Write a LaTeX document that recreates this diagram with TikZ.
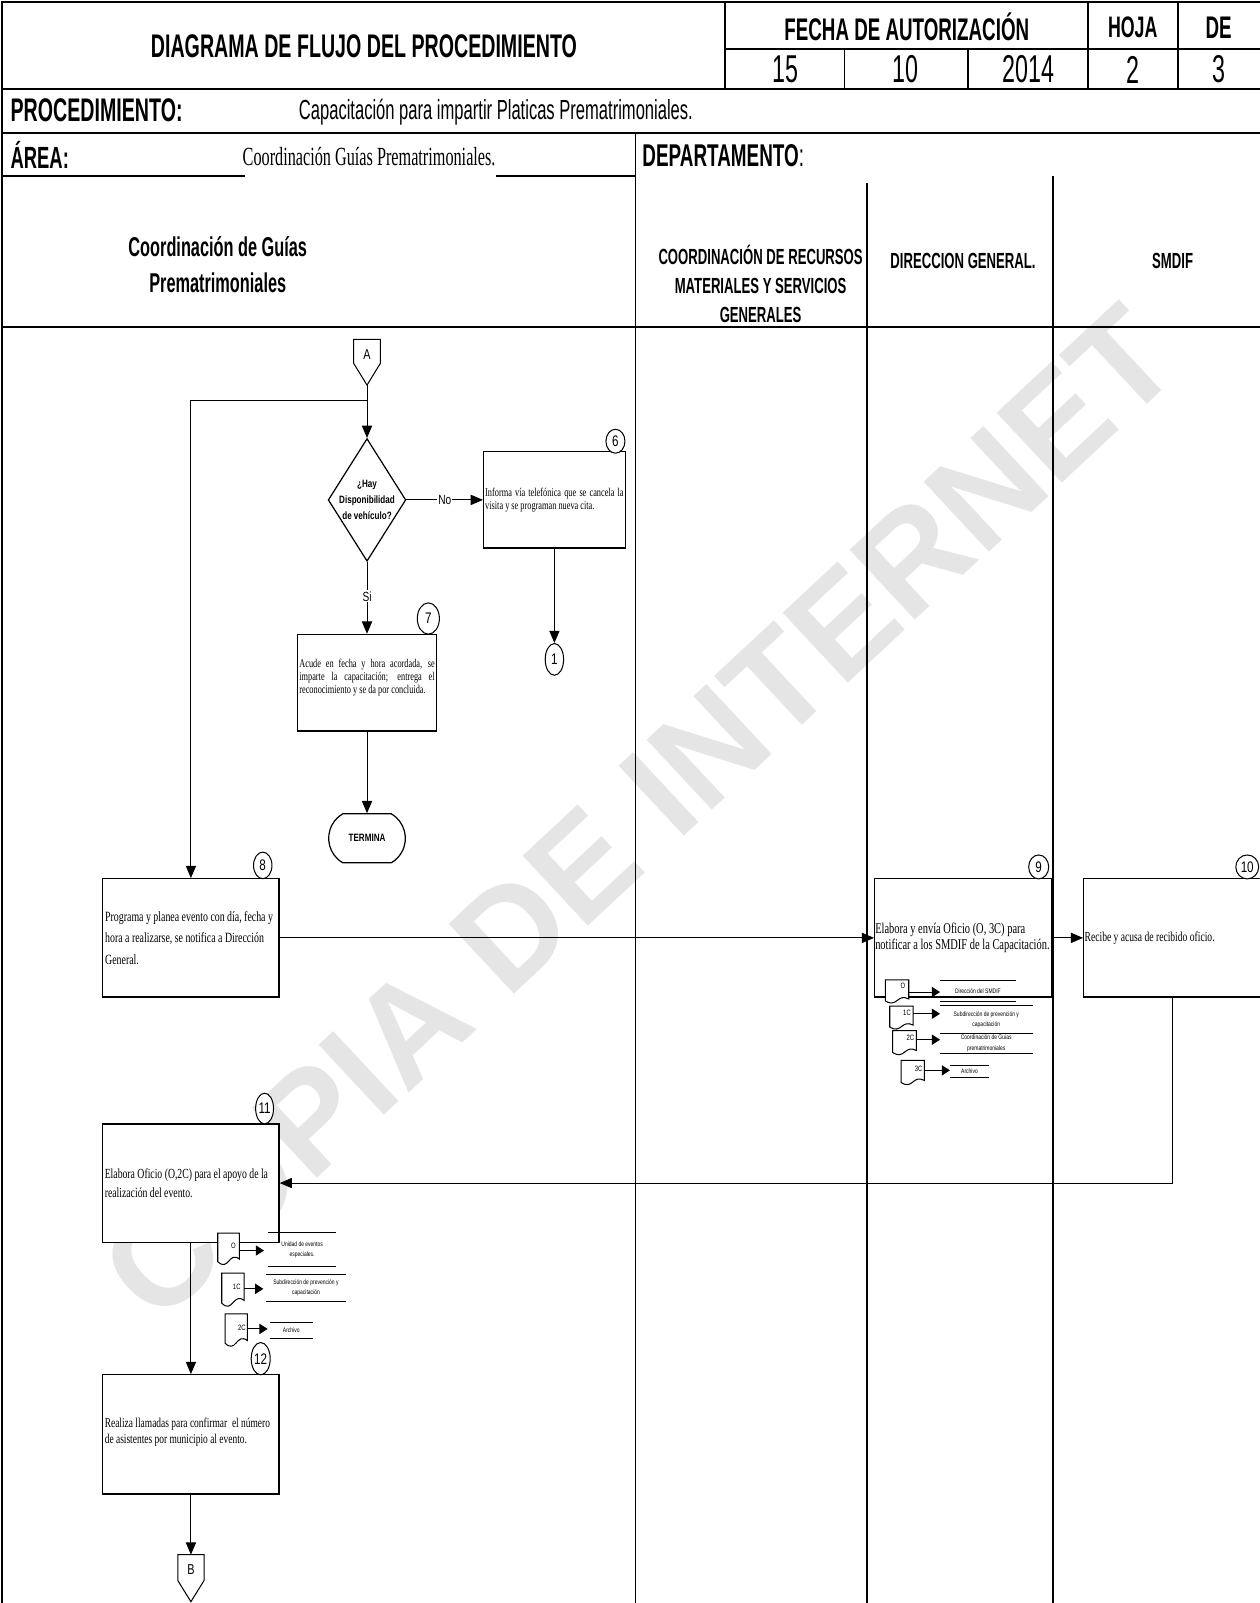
\documentclass[tikz,border=0pt]{standalone}
\usepackage{fontspec}
\setmainfont{Liberation Serif}
\newfontfamily\hd[FakeStretch=0.6]{Liberation Sans}
\newfontfamily\hdw[FakeStretch=0.76]{Liberation Sans}
\newfontfamily\bx[FakeStretch=0.7]{Liberation Serif}
\newfontfamily\sr[FakeStretch=0.62]{Liberation Serif}
\newfontfamily\wmf{Liberation Sans}
\usetikzlibrary{arrows.meta,shapes.geometric,shapes.misc,calc}
\newcommand\myfs[2]{\fontsize{#1}{#2}\selectfont}
\newcommand\docsh[4]{%
  \draw[docline] (#1,#2) -- ({#1+#3},#2) -- ({#1+#3},{#2+0.8*#4})
    .. controls ({#1+0.5*#3},{#2+0.55*#4}) and ({#1+0.5*#3},{#2+1.2*#4}) .. (#1,{#2+0.88*#4}) -- cycle;}
\begin{document}
\begin{tikzpicture}[x=0.5pt,y=-0.5pt,
  frame/.style={line width=0.9pt},
  lane/.style={line width=0.55pt},
  box/.style={draw, fill=white, line width=0.6pt, inner sep=0pt},
  btext/.style={align=left, inner sep=0pt, anchor=west},
  num/.style={draw, fill=white, ellipse, inner sep=0pt, line width=0.5pt, font=\hdw\myfs{7.5}{8}},
  arr/.style={-{Triangle[length=6pt,width=5pt]}, line width=0.5pt},
  darr/.style={-{Triangle[length=4pt,width=5pt]}, line width=0.5pt},
  lbl/.style={inner sep=0pt, font=\hdw\myfs{3.2}{5}, align=center},
  docline/.style={draw, fill=white, line width=0.5pt},
  thinline/.style={line width=0.5pt},
  hleft/.style={anchor=west, inner sep=0pt},
  labline/.style={font=\hdw\myfs{6.5}{7}, fill=white, inner sep=0.6pt}]
\useasboundingbox (0,0) rectangle (1232,1568);
% watermark
\node[rotate=43, text=black!10, font=\wmf\bfseries\myfs{68}{68}, inner sep=0pt] (wm) at (625,795) {COPIA DE INTERNET};
% frame
\draw[frame] (2,1570) -- (2,2) -- (1240,2);
\draw[frame] (709,2) -- (709,87);
\draw[frame] (1064,2) -- (1064,87);
\draw[frame] (1152,2) -- (1152,87);
\draw[frame] (709,48) -- (1240,48);
\draw[frame] (826,48) -- (826,87);
\draw[frame] (947,48) -- (947,87);
\draw[frame] (2,87) -- (1240,87);
\draw[frame] (2,130) -- (1240,130);
\draw[frame] (2,172) -- (240,172);
\draw[frame] (485,172) -- (622,172);
\draw[lane] (622,130) -- (622,1570);
\draw[lane] (848,179) -- (848,1570);
\draw[lane] (1030,172) -- (1030,1570);
\draw[frame] (2,320) -- (1240,320);
% header texts
\node[font=\hd\bfseries\myfs{16}{18}] (title) at (356,45) {DIAGRAMA DE FLUJO DEL PROCEDIMIENTO};
\node[font=\hd\bfseries\myfs{15.3}{18}] (fecha) at (887,26) {FECHA DE AUTORIZACIÓN};
\node[font=\hd\bfseries\myfs{14.5}{18}] (hoja) at (1108,27) {HOJA};
\node[font=\hd\bfseries\myfs{15.3}{18}] (de) at (1192,27) {DE};
\node[font=\hd\myfs{19}{20}] (dd) at (768,68) {15};
\node[font=\hd\myfs{19}{20}] (mm) at (886,68) {10};
\node[font=\hd\myfs{19}{20}] (yy) at (1006,68) {2014};
\node[font=\hd\myfs{19}{20}] (hj) at (1108,68) {2};
\node[font=\hd\myfs{19}{20}] (dn) at (1192,68) {3};
\node[hleft, font=\hd\bfseries\myfs{16}{18}] (proc) at (10,108) {PROCEDIMIENTO:};
\node[hleft, font=\hd\myfs{13.5}{16}] (proct) at (292,110) {Capacitación para impartir Platicas Prematrimoniales.};
\node[hleft, font=\hd\bfseries\myfs{15}{18}] (area) at (10,152) {ÁREA:};
\node[hleft, font=\sr\myfs{12.8}{15}] (areat) at (237,153) {Coordinación Guías Prematrimoniales.};
\node[hleft, font=\hd\myfs{15.4}{18}] (dep) at (628,152) {\textbf{DEPARTAMENTO}:};
\node[font=\hd\bfseries\myfs{13.3}{17.5}, align=center] (h1) at (213,259) {Coordinación de Guías\\Prematrimoniales};
\node[font=\hd\bfseries\myfs{10.7}{14.25}, align=center] (h2) at (744,278) {COORDINACIÓN DE RECURSOS\\MATERIALES Y SERVICIOS\\GENERALES};
\node[font=\hd\bfseries\myfs{10.7}{14}] (h3) at (942,255) {DIRECCION GENERAL.};
\node[font=\hd\bfseries\myfs{10.7}{14}] (h4) at (1147,255) {SMDIF};
% connector A
\coordinate (Atip) at (359,376.7);
\draw[thinline, fill=white] (346,332) -- (372,332) -- (372,355.5) -- (Atip) -- (346,355.5) -- cycle;
\node[font=\hdw\myfs{7}{8}] (A) at (359,347) {A};
\coordinate (J) at (359,392);
% decision
\node[draw, diamond, minimum width=38pt, minimum height=60pt, inner sep=0pt, line width=0.6pt, fill=white] (d) at (359,489) {};
\node[font=\hdw\bfseries\myfs{5.2}{7.6}, align=center] (dt) at (d.center) {¿Hay\\Disponibilidad\\de vehículo?};
\draw[arr] (Atip) -- (d.north);
% box 6
\node[box, minimum width=69.3pt, minimum height=47pt] (b6) at (542.3,489) {};
\node[font=\bx\myfs{5.8}{6.5}, inner sep=0pt] (t6) at (b6.center) {\parbox{67.7pt}{Informa vía telefónica que se cancela la\linebreak visita y se programan nueva cita.}};
\node[num, minimum width=9.3pt, minimum height=11.7pt] (c6) at (602,431.6) {6};
\draw[arr] (d.east) -- node[labline] (no) {No} (b6.west);
% box 7
\node[box, minimum width=67.85pt, minimum height=47.25pt] (b7) at (359,667.75) {};
\node[font=\bx\myfs{5.8}{6.5}, inner sep=0pt] (t7) at ($(b7.center)+(0,-5)$) {\parbox{66.2pt}{Acude en fecha y hora acordada, se\linebreak imparte la capacitación; entrega el\linebreak reconocimiento y se da por concluida.}};
\node[num, minimum width=10.8pt, minimum height=15.3pt] (c7) at (419,605) {7};
\draw[arr] (d.south) -- node[labline, pos=0.48] (si) {Si} (b7.north);
% circle 1
\node[num, minimum width=9pt, minimum height=15.5pt] (c1) at (542.3,645) {1};
\draw[arr] (b6.south) -- (c1.north);
% termina
\node[draw, rounded rectangle, rounded rectangle arc length=120, minimum width=37.5pt, minimum height=24pt, inner sep=0pt, fill=white, line width=0.6pt, font=\hdw\bfseries\myfs{5.2}{6}] (term) at (359,820) {TERMINA};
\draw[arr] (b7.south) -- (term.north);
% box 8
\node[box, minimum width=86.25pt, minimum height=57.9pt] (b8) at (186.75,917.4) {};
\node[btext, font=\bx\myfs{6.9}{10.4}] (t8) at ($(b8.west)+(1.3pt,0)$) {Programa y planea evento con día, fecha y\\hora a realizarse, se notifica a Dirección\\General.};
\node[num, minimum width=9pt, minimum height=13pt] (c8) at (257,846.5) {8};
\draw[arr] (J) -| (b8.north);
% box 9
\node[box, minimum width=86.45pt, minimum height=57.9pt] (b9) at (942,917.4) {};
\node[btext, font=\bx\myfs{7.3}{7.9}] (t9) at ($(b9.west)+(0.4pt,0)$) {Elabora y envía Oficio (O, 3C) para\\notificar a los SMDIF de la Capacitación.};
\node[num, minimum width=9.8pt, minimum height=11.7pt] (c9) at (1016,848) {9};
\draw[arr] (b8.east) -- (b9.west);
% box 10
\node[box, minimum width=87pt, minimum height=57.9pt] (b10) at (1147,917.4) {};
\node[btext, font=\bx\myfs{6.7}{8}] (t10) at ($(b10.west)+(0.6pt,0)$) {Recibe y acusa de recibido oficio.};
\node[num, minimum width=11.2pt, minimum height=11.7pt] (c10) at (1220,848) {10};
\draw[arr] (b9.east) -- (b10.west);
% box 11
\node[box, minimum width=86.25pt, minimum height=57.85pt] (b11) at (186.75,1157.2) {};
\node[btext, font=\bx\myfs{6.8}{9}] (t11) at ($(b11.west)+(1.1pt,0)$) {Elabora Oficio (O,2C) para el apoyo de la\\realización del evento.};
\node[num, minimum width=8.75pt, minimum height=15pt] (c11) at (258.8,1084.3) {11};
\draw[arr] (b10.south) |- (b11.east);
% box 12
\node[box, minimum width=86.25pt, minimum height=58.35pt] (b12) at (186.75,1403) {};
\node[btext, font=\bx\myfs{6.6}{8.2}] (t12) at ($(b12.west)+(1.1pt,-2)$) {Realiza llamadas para confirmar\ \ el número\\de asistentes por municipio al evento.};
\node[num, minimum width=9.3pt, minimum height=15.8pt] (c12) at (255,1329) {12};
\draw[arr] (b11.south) -- (b12.north);
% connector B
\coordinate (Btop) at (186.75,1520.7);
\draw[thinline, fill=white] (173.9,1520.7) -- (199.6,1520.7) -- (199.6,1546) -- (186.75,1566.7) -- (173.9,1546) -- cycle;
\node[font=\hdw\myfs{7}{8}] (B) at (186.75,1535) {B};
\draw[arr] (b12.south) -- (Btop);
% documents of box 9
\docsh{866}{958.4}{22.9}{23.4}
\node[font=\hdw\myfs{3.8}{4}, inner sep=0pt] (o9a) at (883.3,964.5) {O};
\coordinate (e9a) at (888.9,970.4);
\node[lbl, minimum width=36.65pt, minimum height=9.75pt] (l9a) at (956.55,969.45) {Dirección del SMDIF};
\draw[thinline] (l9a.north west) -- (l9a.north east) (l9a.south west) -- (l9a.south east);
\draw[darr] (e9a) -- (l9a.west |- e9a);
\docsh{870.3}{984.1}{22.8}{23.2}
\node[font=\hdw\myfs{3.8}{4}, inner sep=0pt] (o9b) at (887.2,990.6) {1C};
\coordinate (e9b) at (893.1,991.6);
\node[lbl, minimum width=44.85pt, minimum height=13.55pt] (l9b) at (964.75,997.65) {Subdirección de prevención y\\capacitación};
\draw[thinline] (l9b.north west) -- (l9b.north east);
\draw[darr] (e9b) -- (l9b.west |- e9b);
\docsh{873.2}{1008}{23.2}{24.4}
\node[font=\hdw\myfs{3.8}{4}, inner sep=0pt] (o9c) at (890.5,1015) {2C};
\coordinate (e9c) at (896.4,1017);
\node[lbl, minimum width=44.85pt, minimum height=9.3pt] (l9c) at (964.75,1020.5) {Coordinación de Guías\\prematrimoniales};
\draw[thinline] (l9c.north west) -- (l9c.north east) (l9c.south west) -- (l9c.south east);
\draw[darr] (e9c) -- (l9c.west |- e9c);
\docsh{881.4}{1037.3}{22.8}{24.4}
\node[font=\hdw\myfs{3.8}{4}, inner sep=0pt] (o9d) at (898.6,1045.4) {3C};
\coordinate (e9d) at (904.2,1047);
\node[lbl, minimum width=18.75pt, minimum height=5.7pt] (l9d) at (948.35,1047.9) {Archivo};
\draw[thinline] (l9d.north west) -- (l9d.north east) (l9d.south west) -- (l9d.south east);
\draw[darr] (e9d) -- (l9d.west |- e9d);
% documents of box 11
\docsh{213}{1206.2}{21.2}{31.7}
\node[font=\hdw\myfs{3.8}{4}, inner sep=0pt] (o11a) at (228.3,1219) {O};
\coordinate (e11a) at (234.2,1223.2);
\node[lbl, minimum width=32.95pt, minimum height=16.2pt] (l11a) at (295.55,1222.4) {Unidad de eventos\\especiales.};
\draw[thinline] (l11a.north west) -- (l11a.north east) (l11a.south west) -- (l11a.south east);
\draw[darr, shorten >=2pt] (e11a) -- (l11a.west |- e11a);
\docsh{216.9}{1245.4}{21.9}{33.3}
\node[font=\hdw\myfs{3.8}{4}, inner sep=0pt] (o11b) at (231.6,1258.5) {1C};
\coordinate (e11b) at (238.8,1260.7);
\node[lbl, minimum width=38.3pt, minimum height=13.05pt] (l11b) at (299.3,1259.75) {Subdirección de prevención y\\capacitación};
\draw[thinline] (l11b.north west) -- (l11b.north east) (l11b.south west) -- (l11b.south east);
\draw[darr, shorten >=1.5pt] (e11b) -- (l11b.west |- e11b);
\docsh{220.2}{1285.2}{21.8}{32.6}
\node[font=\hdw\myfs{3.8}{4}, inner sep=0pt] (o11c) at (236.5,1298.9) {2C};
\coordinate (e11c) at (242,1299.9);
\node[lbl, minimum width=20.7pt, minimum height=7.3pt] (l11c) at (284.9,1301.3) {Archivo};
\draw[thinline] (l11c.north west) -- (l11c.north east) (l11c.south west) -- (l11c.south east);
\draw[darr, shorten >=1pt] (e11c) -- (l11c.west |- e11c);
\end{tikzpicture}
\end{document}
